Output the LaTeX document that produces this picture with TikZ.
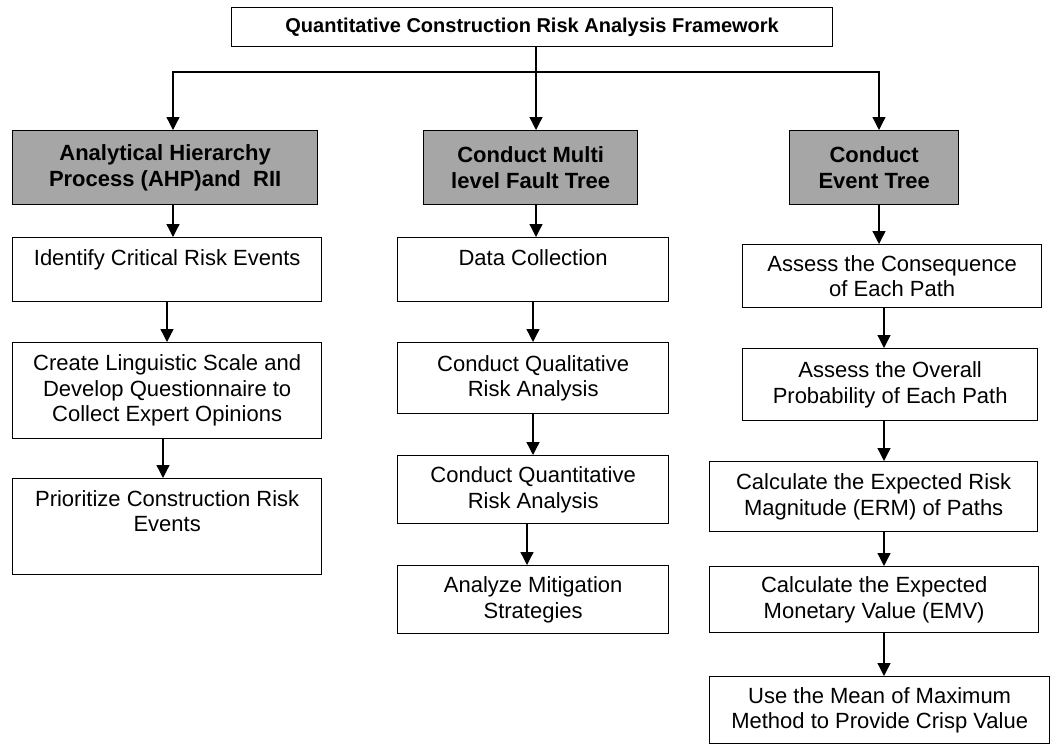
\documentclass[tikz,border=0pt]{standalone}
\usepackage{fontspec}
\setmainfont{Liberation Sans}
\usetikzlibrary{arrows.meta}
\definecolor{boxgray}{RGB}{166,166,166}
\newcommand{\fsbody}{\fontsize{22}{25.5}\selectfont}
\newcommand{\fstitle}{\fontsize{20}{23}\selectfont\bfseries}
\begin{document}
\begin{tikzpicture}[x=1pt,y=-1pt,
 box/.style={draw=black, line width=1.3pt, inner sep=0pt, anchor=north west, align=center, font=\fsbody},
 graybox/.style={box, fill=boxgray, font=\fsbody\bfseries},
 txt/.style={inner sep=0pt, align=center, font=\fsbody, anchor=north},
 arr/.style={line width=1.3pt, -{Triangle[length=13pt,width=13pt]}},
 arrboth/.style={line width=1.3pt, {Triangle[length=13pt,width=13pt]}-{Triangle[length=13pt,width=13pt]}}]

\useasboundingbox[fill=white] (0,0) rectangle (1051,744);

% boxes
\node[box, font=\fstitle, minimum width=601pt, minimum height=39pt] (title) at (231,7) {Quantitative Construction Risk Analysis Framework};

\node[graybox, minimum width=305pt, minimum height=74pt] (ahp) at (12,130) {Analytical Hierarchy\\Process (AHP)and~ RII};
\node[graybox, minimum width=214pt, minimum height=74pt] (fault) at (423,130) {Conduct Multi\\level Fault Tree};
\node[graybox, minimum width=169pt, minimum height=74pt] (event) at (789,130) {Conduct\\Event Tree};

\node[box, minimum width=309pt, minimum height=64pt] (ident) at (12,237) {};
\node[txt] (identt) at ([yshift=-12pt]ident.north) {Identify Critical Risk Events};
\node[box, minimum width=309pt, minimum height=96pt] (create) at (12,342) {Create Linguistic Scale and\\Develop Questionnaire to\\Collect Expert Opinions};
\node[box, minimum width=309pt, minimum height=96pt] (prior) at (12,478) {};
\node[txt] (priort) at ([yshift=-12pt]prior.north) {Prioritize Construction Risk\\Events};

\node[box, minimum width=271pt, minimum height=64pt] (data) at (397,237) {};
\node[txt] (datat) at ([yshift=-12pt]data.north) {Data Collection};
\node[box, minimum width=271pt, minimum height=71pt] (qual) at (397,342) {Conduct Qualitative\\Risk Analysis};
\node[box, minimum width=271pt, minimum height=68pt] (quant) at (397,455) {Conduct Quantitative\\Risk Analysis};
\node[box, minimum width=271pt, minimum height=68pt] (anal) at (397,565) {Analyze Mitigation\\Strategies};

\node[box, minimum width=299pt, minimum height=63pt] (cons) at (742,244) {Assess the Consequence\\of Each Path};
\node[box, minimum width=295pt, minimum height=72pt] (over) at (742,348) {Assess the Overall\\Probability of Each Path};
\node[box, minimum width=328pt, minimum height=70pt] (erm) at (709,461) {Calculate the Expected Risk\\Magnitude (ERM) of Paths};
\node[box, minimum width=329pt, minimum height=66pt] (emv) at (709,566) {Calculate the Expected\\Monetary Value (EMV)};
\node[box, minimum width=340pt, minimum height=67pt] (mean) at (709,676) {Use the Mean of Maximum\\Method to Provide Crisp Value};

% connector x positions
\coordinate (xa1) at (173,0);
\coordinate (xa2) at (167,0);
\coordinate (xa3) at (163,0);
\coordinate (xm1) at (536,0);
\coordinate (xm2) at (533,0);
\coordinate (xm3) at (527,0);
\coordinate (xr1) at (879,0);
\coordinate (xr2) at (884,0);
\coordinate (busy) at (0,72);

% top connectors
\draw[arr] (title.south -| xm1) -- (fault.north -| xm1);
\draw[arrboth] (ahp.north -| xa1) -- (xa1 |- busy) -- (xr1 |- busy) -- (event.north -| xr1);

% left column
\draw[arr] (ahp.south -| xa1) -- (ident.north -| xa1);
\draw[arr] (ident.south -| xa2) -- (create.north -| xa2);
\draw[arr] (create.south -| xa3) -- (prior.north -| xa3);

% middle column
\draw[arr] (fault.south -| xm1) -- (data.north -| xm1);
\draw[arr] (data.south -| xm2) -- (qual.north -| xm2);
\draw[arr] (qual.south -| xm2) -- (quant.north -| xm2);
\draw[arr] (quant.south -| xm3) -- (anal.north -| xm3);

% right column
\draw[arr] (event.south -| xr1) -- (cons.north -| xr1);
\draw[arr] (cons.south -| xr2) -- (over.north -| xr2);
\draw[arr] (over.south -| xr2) -- (erm.north -| xr2);
\draw[arr] (erm.south -| xr2) -- (emv.north -| xr2);
\draw[arr] (emv.south -| xr2) -- (mean.north -| xr2);
\end{tikzpicture}
\end{document}
